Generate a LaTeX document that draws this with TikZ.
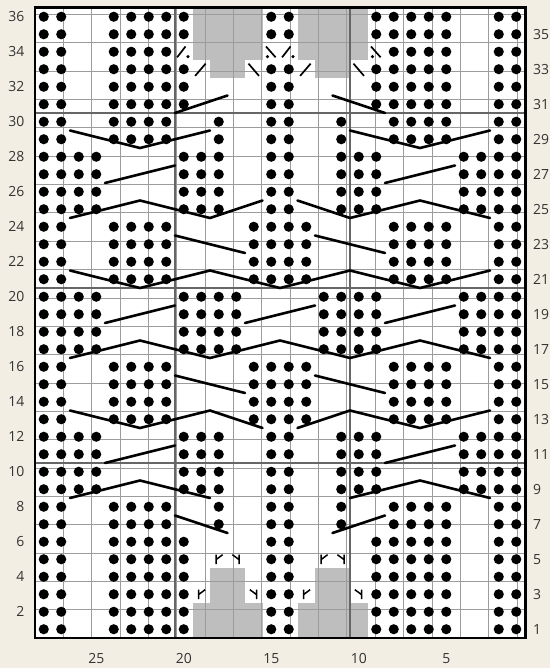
\documentclass[tikz,border=0pt]{standalone}
\usepackage{fontspec}
\setmainfont{Open Sans}
\usepackage{xcolor}
\definecolor{chartbg}{HTML}{F2EEE3}
\definecolor{nsgray}{HTML}{BEBEBE}
\definecolor{gridln}{HTML}{9C9C9C}
\definecolor{tenln}{HTML}{666666}
\definecolor{lbltxt}{HTML}{333333}
\tikzset{
  numlabel/.style={font=\fontsize{14}{16}\selectfont, text=lbltxt, inner sep=0pt},
  purl/.style={fill=black},
  cable/.style={line width=2.6pt, line cap=round, line join=miter},
  decsym/.style={line width=1.7pt},
  incsym/.style={line width=1.5pt},
  nostitch/.style={fill=nsgray},
  finegrid/.style={draw=gridln, line width=0.65pt},
  tengrid/.style={draw=tenln, line width=1.3pt},
  chartborder/.style={draw=black, line width=3pt},
}

\begin{document}
\begin{tikzpicture}[x=17.5bp, y=17.5bp]

% ---- paper ----
\fill[chartbg] (-2,-1.7143) rectangle (29.4286,36.4571);
\useasboundingbox (-2,-1.7143) rectangle (29.4286,36.4571);
\fill[white] (0,0) rectangle (28,36);

% ---- no stitch ----
\foreach \m in {0,6} {
  \fill[nostitch] (9+\m,0) rectangle (13+\m,2);
  \fill[nostitch] (10+\m,2) rectangle (12+\m,4);
  \fill[nostitch] (10+\m,32) rectangle (12+\m,33);
  \fill[nostitch] (9+\m,33) rectangle (13+\m,36);
}

% ---- grid ----
\draw[finegrid] (0,0) grid (28,36);
\draw[tengrid] (8,0) -- (8,36) (18,0) -- (18,36)
  (0,10) -- (28,10) (0,20) -- (28,20) (0,30) -- (28,30);
\draw[chartborder] (0,0) rectangle (28,36);

% ---- purl dots (mirrored about the centre) ----
\foreach \r in {1,2,3,4,5,6,31,32,33,35,36} \foreach \c in {0,1,4,5,6,7,8,13}
  {\fill[purl] (\c+0.5,\r-0.5) circle (0.29) (27.5-\c,\r-0.5) circle (0.29);}
\foreach \r in {7,8,29,30} \foreach \c in {0,1,4,5,6,7,10,13}
  {\fill[purl] (\c+0.5,\r-0.5) circle (0.29) (27.5-\c,\r-0.5) circle (0.29);}
\foreach \r in {9,10,11,12,25,26,27,28} \foreach \c in {0,1,2,3,8,9,10,13}
  {\fill[purl] (\c+0.5,\r-0.5) circle (0.29) (27.5-\c,\r-0.5) circle (0.29);}
\foreach \r in {13,14,15,16,21,22,23,24} \foreach \c in {0,1,4,5,6,7,12,13}
  {\fill[purl] (\c+0.5,\r-0.5) circle (0.29) (27.5-\c,\r-0.5) circle (0.29);}
\foreach \r in {17,18,19,20} \foreach \c in {0,1,2,3,8,9,10,11}
  {\fill[purl] (\c+0.5,\r-0.5) circle (0.29) (27.5-\c,\r-0.5) circle (0.29);}
\foreach \c in {0,1,4,5,6,7}
  {\fill[purl] (\c+0.5,33.5) circle (0.29) (27.5-\c,33.5) circle (0.29);}

% ---- cables ----
\draw[cable] (8,7) -- (11,6) (17,6) -- (20,7);
\draw[cable] (2,8) -- (6,9) -- (10,8) (18,8) -- (22,9) -- (26,8);
\draw[cable] (4,10) -- (8,11) (20,10) -- (24,11);
\draw[cable] (2,13) -- (6,12) -- (10,13) -- (13,12) (15,12) -- (18,13) -- (22,12) -- (26,13);
\draw[cable] (8,15) -- (12,14) (16,15) -- (20,14);
\draw[cable] (2,16) -- (6,17) -- (10,16) -- (14,17) -- (18,16) -- (22,17) -- (26,16);
\draw[cable] (4,18) -- (8,19) (12,18) -- (16,19) (20,18) -- (24,19);
\draw[cable] (2,21) -- (6,20) -- (10,21) -- (14,20) -- (18,21) -- (22,20) -- (26,21);
\draw[cable] (8,23) -- (12,22) (16,23) -- (20,22);
\draw[cable] (2,24) -- (6,25) -- (10,24) -- (13,25) (15,25) -- (18,24) -- (22,25) -- (26,24);
\draw[cable] (4,26) -- (8,27) (20,26) -- (24,27);
\draw[cable] (2,29) -- (6,28) -- (10,29) (18,29) -- (22,28) -- (26,29);
\draw[cable] (8,30) -- (11,31) (17,31) -- (20,30);

% ---- decreases and increases ----
\foreach \m in {0,6} {
  \draw[decsym] (9.15+\m,32.12) -- (9.75+\m,32.82);
  \draw[decsym] (12.2+\m,32.82) -- (12.8+\m,32.12);
  \draw[decsym] (8.12+\m,33.18) -- (8.6+\m,33.8);
  \fill (8.74+\m,33.22) circle (0.1);
  \draw[decsym] (13.2+\m,33.8) -- (13.75+\m,33.18);
  \fill (13.28+\m,33.22) circle (0.1);
  \foreach \c/\r in {9/3,10/5} {
    \draw[incsym] (\c+\m+0.35,\r-0.78) -- (\c+\m+0.35,\r-0.24)
      (\c+\m+0.72,\r-0.24) -- (\c+\m+0.35,\r-0.52);
  }
  \foreach \c/\r in {12/3,11/5} {
    \draw[incsym] (\c+\m+0.66,\r-0.78) -- (\c+\m+0.66,\r-0.24)
      (\c+\m+0.28,\r-0.24) -- (\c+\m+0.66,\r-0.52);
  }
}

% ---- numbering ----
\foreach \r in {2,4,...,36}
  \node[numlabel, anchor=east] (lrow\r) at (-0.6,\r-0.5) {\r};
\foreach \r in {1,3,...,35}
  \node[numlabel, anchor=west] (rrow\r) at (28.45,\r-0.5) {\r};
\foreach \s in {25,20,15,10,5}
  \node[numlabel] (st\s) at (28.5-\s,-1.15) {\s};

\end{tikzpicture}
\end{document}
